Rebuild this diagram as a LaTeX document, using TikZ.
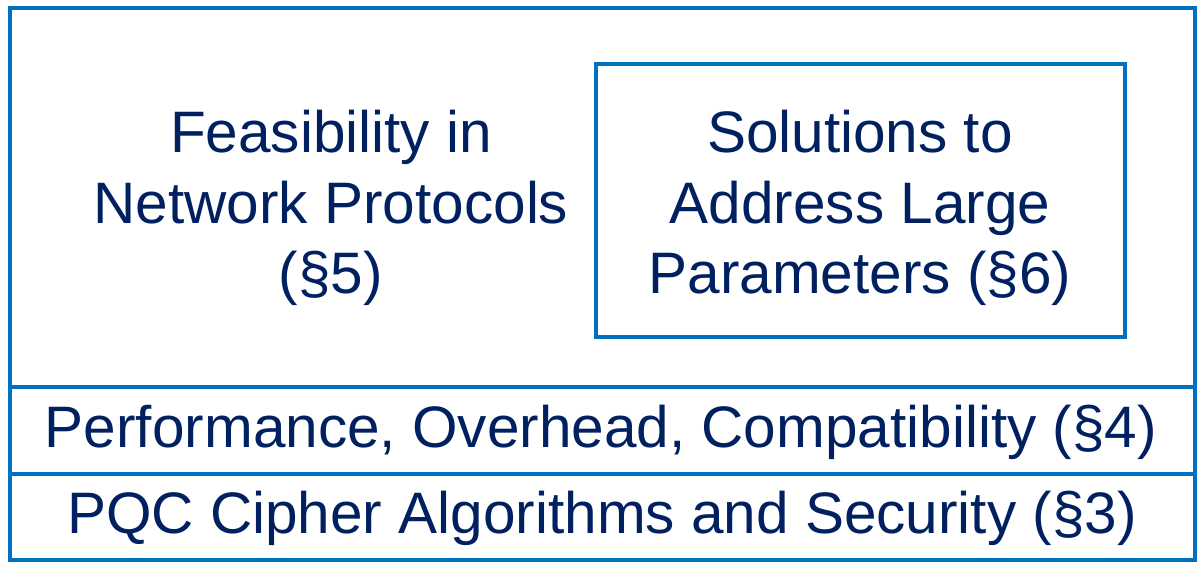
\documentclass[tikz,border=0pt]{standalone}
\usepackage{fontspec}
\setmainfont{Liberation Sans}
\definecolor{boxblue}{RGB}{0,112,192}
\definecolor{textnavy}{RGB}{0,32,96}
\begin{document}
\begin{tikzpicture}[x=0.02cm,y=-0.02cm]
    \tikzstyle{layer} = [draw=boxblue, line width=2.3pt]
    \tikzstyle{label} = [text=textnavy, align=center, font=\fontsize{33.3}{40}\selectfont]
    \useasboundingbox (0,0) rectangle (1200,571);

    % Layers
    \draw[layer] (10,8) rectangle (1195,387);
    \draw[layer] (10,387) rectangle (1195,474);
    \draw[layer] (10,474) rectangle (1195,560);
    \draw[layer] (596,64) rectangle (1125,337);

    % Texts
    \node[label] (feas) at (331,208) {Feasibility in\\Network Protocols\\(\S5)};
    \node[label] (sol) at (860,208) {Solutions to\\Address Large\\Parameters (\S6)};
    \node[label] (perf) at (601,432) {Performance, Overhead, Compatibility (\S4)};
    \node[label] (pqc) at (602,518) {PQC Cipher Algorithms and Security (\S3)};
\end{tikzpicture}
\end{document}
